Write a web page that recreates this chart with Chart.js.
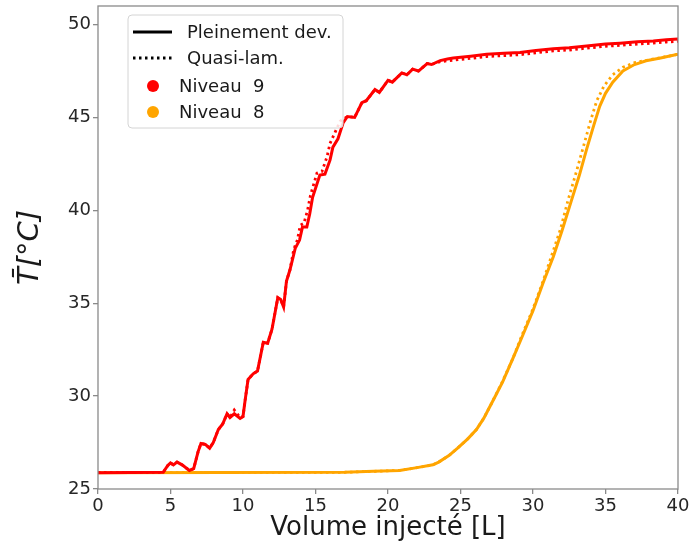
<!DOCTYPE html>
<html>
<head>
<meta charset="utf-8">
<script src="https://cdn.jsdelivr.net/npm/chart.js@4"></script>
<style>
  html, body { margin: 0; padding: 0; background: #fff; }
  canvas { display: block; }
</style>
</head>
<body>
<canvas id="graphe" width="689" height="544"></canvas>
<script>
// ticks des axes
const xTicks = [0, 5, 10, 15, 20, 25, 30, 35, 40];
const yTicks = [25, 30, 35, 40, 45, 50];

// légende
const legendLabels = ['Pleinement dev.', 'Quasi-lam.', 'Niveau  9', 'Niveau  8'];

// Niveau 9 - pleinement développé (volume [L], T [°C])
const niv9Plein = [
  [0, 25.88], [4.5, 25.9], [4.8, 26.25], [5.0, 26.4], [5.2, 26.3], [5.45, 26.45], [5.8, 26.3],
  [6.3, 26.0], [6.6, 26.1], [6.9, 27.0], [7.1, 27.45], [7.4, 27.4], [7.7, 27.2], [7.95, 27.5],
  [8.3, 28.2], [8.6, 28.5], [8.9, 29.05], [9.1, 28.85], [9.4, 29.05], [9.8, 28.8], [10.0, 28.9],
  [10.15, 29.8], [10.35, 30.9], [10.7, 31.2], [11.0, 31.35], [11.4, 32.9], [11.7, 32.85],
  [12.0, 33.6], [12.4, 35.3], [12.6, 35.2], [12.8, 34.8], [13.0, 36.2], [13.24, 36.8],
  [13.6, 37.95], [13.9, 38.4], [14.1, 39.1], [14.4, 39.1], [14.6, 39.8], [14.8, 40.7],
  [15.3, 41.9], [15.65, 41.95], [16.0, 42.7], [16.2, 43.4], [16.55, 43.85], [16.9, 44.7],
  [17.2, 45.05], [17.7, 45.0], [18.2, 45.8], [18.5, 45.9], [19.1, 46.5], [19.4, 46.35],
  [20.0, 47.0], [20.3, 46.9], [20.95, 47.4], [21.3, 47.3], [21.7, 47.6], [22.1, 47.5],
  [22.7, 47.9], [23.0, 47.85], [23.6, 48.06], [24.1, 48.15], [24.5, 48.2], [25.7, 48.3],
  [26.8, 48.4], [28.0, 48.45], [29.1, 48.5], [30.2, 48.6], [31.4, 48.7], [32.5, 48.75],
  [33.7, 48.85], [35.0, 48.95], [36.0, 49.0], [37.2, 49.07], [38.3, 49.12], [39.2, 49.18],
  [40.0, 49.22]
];

// Niveau 9 - quasi-laminaire
const niv9Quasi = [
  [0, 25.88], [4.5, 25.9], [4.8, 26.25], [5.0, 26.4], [5.2, 26.3], [5.45, 26.45], [5.8, 26.3],
  [6.3, 26.0], [6.6, 26.1], [6.9, 27.0], [7.1, 27.45], [7.4, 27.4], [7.7, 27.2], [7.95, 27.5],
  [8.3, 28.2], [8.6, 28.5], [8.9, 29.05], [9.1, 28.85], [9.4, 29.25], [9.8, 28.85], [10.0, 28.9],
  [10.15, 29.8], [10.35, 30.9], [10.7, 31.2], [11.0, 31.35], [11.4, 32.9], [11.7, 32.85],
  [12.0, 33.6], [12.4, 35.3], [12.6, 35.2], [12.8, 34.8], [13.0, 36.2], [13.24, 36.8],
  [13.5, 37.9], [13.75, 38.4], [13.95, 39.2], [14.2, 39.3], [14.45, 40.0], [14.65, 40.8],
  [15.1, 42.0], [15.45, 42.1], [15.8, 42.9], [16.0, 43.6], [16.35, 44.2], [16.7, 44.8],
  [17.2, 45.05], [17.7, 45.0], [18.2, 45.8], [18.5, 45.9], [19.1, 46.5], [19.4, 46.35],
  [20.0, 47.0], [20.3, 46.9], [20.95, 47.4], [21.3, 47.3], [21.7, 47.6], [22.1, 47.5],
  [22.7, 47.9], [23.0, 47.85], [23.6, 48.0], [24.1, 48.05], [24.5, 48.08], [25.7, 48.18],
  [26.8, 48.28], [28.0, 48.33], [29.1, 48.38], [30.2, 48.48], [31.4, 48.58], [32.5, 48.63],
  [33.7, 48.73], [35.0, 48.83], [36.0, 48.88], [37.2, 48.95], [38.3, 49.0], [39.2, 49.06],
  [40.0, 49.1]
];

// Niveau 8 - pleinement développé
const niv8Plein = [
  [0, 25.88], [17.0, 25.9], [19.0, 25.95], [20.8, 26.0], [22.0, 26.15], [23.1, 26.3],
  [23.5, 26.45], [24.2, 26.8], [24.8, 27.2], [25.5, 27.7], [26.1, 28.2], [26.6, 28.8],
  [27.2, 29.7], [27.9, 30.75], [28.6, 32.0], [29.2, 33.1], [30.0, 34.6], [30.7, 36.1],
  [31.4, 37.5], [32.0, 38.9], [32.6, 40.4], [33.2, 41.9], [33.7, 43.3], [34.2, 44.6],
  [34.6, 45.6], [35.0, 46.3], [35.5, 46.9], [36.2, 47.5], [37.0, 47.85], [37.8, 48.05],
  [38.8, 48.2], [40.0, 48.4]
];

// Niveau 8 - quasi-laminaire
const niv8Quasi = [
  [0, 25.88], [17.0, 25.9], [19.0, 25.95], [20.8, 26.0], [22.0, 26.15], [23.1, 26.3],
  [23.5, 26.45], [24.2, 26.8], [24.8, 27.2], [25.5, 27.7], [26.1, 28.2], [26.6, 28.8],
  [27.2, 29.7], [27.9, 30.8], [28.6, 32.0], [29.2, 33.2], [30.0, 34.7], [30.7, 36.2],
  [31.3, 37.6], [31.9, 39.0], [32.4, 40.5], [33.0, 42.1], [33.5, 43.5], [34.0, 44.9],
  [34.4, 45.9], [34.9, 46.7], [35.5, 47.3], [36.2, 47.7], [37.0, 47.95], [38.0, 48.1],
  [39.0, 48.25], [40.0, 48.4]
];

const ROUGE = '#ff0000';
const ORANGE = '#ffa500';
const CADRE = '#8a8a8a';

function serie(points, couleur, pointille) {
  return {
    data: points.map(p => ({ x: p[0], y: p[1] })),
    borderColor: couleur,
    borderWidth: pointille ? 2.8 : 3,
    borderDash: pointille ? [2.5, 3.5] : [],
    showLine: true,
    pointRadius: 0,
    tension: 0,
    fill: false
  };
}

// cadre + légende dessinés à la main (comme matplotlib)
const cadrePlugin = {
  id: 'cadre',
  afterDatasetsDraw(chart) {
    const { ctx, chartArea: a } = chart;
    ctx.save();
    ctx.strokeStyle = CADRE;
    ctx.lineWidth = 1.3;
    ctx.strokeRect(a.left, a.top, a.right - a.left, a.bottom - a.top);

    // boîte de légende
    const bx = 128, by = 15, bw = 215, bh = 113, r = 4;
    ctx.beginPath();
    ctx.moveTo(bx + r, by);
    ctx.arcTo(bx + bw, by, bx + bw, by + bh, r);
    ctx.arcTo(bx + bw, by + bh, bx, by + bh, r);
    ctx.arcTo(bx, by + bh, bx, by, r);
    ctx.arcTo(bx, by, bx + bw, by, r);
    ctx.closePath();
    ctx.fillStyle = 'rgba(255,255,255,0.85)';
    ctx.fill();
    ctx.strokeStyle = '#d4d4d4';
    ctx.lineWidth = 1;
    ctx.stroke();

    ctx.font = '18px "DejaVu Sans"';
    ctx.fillStyle = '#1a1a1a';
    ctx.textBaseline = 'middle';

    const ys = [32, 58, 86, 112];
    // ligne pleine
    ctx.strokeStyle = '#000';
    ctx.lineWidth = 2.8;
    ctx.setLineDash([]);
    ctx.beginPath(); ctx.moveTo(133, ys[0]); ctx.lineTo(172, ys[0]); ctx.stroke();
    ctx.fillText(legendLabels[0], 187, ys[0] + 1);
    // ligne pointillée
    ctx.setLineDash([2.5, 3.5]);
    ctx.beginPath(); ctx.moveTo(133, ys[1]); ctx.lineTo(172, ys[1]); ctx.stroke();
    ctx.setLineDash([]);
    ctx.fillText(legendLabels[1], 187, ys[1] + 1);
    // marqueurs
    [[ROUGE, 2], [ORANGE, 3]].forEach(([c, i]) => {
      ctx.fillStyle = c;
      ctx.beginPath(); ctx.arc(153, ys[i], 6, 0, Math.PI * 2); ctx.fill();
      ctx.fillStyle = '#1a1a1a';
      ctx.fillText(legendLabels[i], 179, ys[i] + 1);
    });
    ctx.restore();
  }
};

Chart.defaults.font.family = '"DejaVu Sans"';
Chart.defaults.color = '#262626';

const ctx = document.getElementById('graphe').getContext('2d');
new Chart(ctx, {
  type: 'scatter',
  data: {
    datasets: [
      serie(niv9Plein, ROUGE, false),
      serie(niv9Quasi, ROUGE, true),
      serie(niv8Plein, ORANGE, false),
      serie(niv8Quasi, ORANGE, true)
    ]
  },
  options: {
    responsive: false,
    animation: false,
    layout: { padding: { top: 6, right: 11, left: 0, bottom: 0 } },
    plugins: { legend: { display: false }, tooltip: { enabled: false } },
    scales: {
      x: {
        type: 'linear', min: 0, max: 40,
        afterBuildTicks: s => { s.ticks = xTicks.map(v => ({ value: v })); },
        afterFit: s => { s.height = 55; s.paddingLeft = 0; s.paddingRight = 0; },
        border: { display: false },
        grid: { drawOnChartArea: false, drawTicks: true, tickLength: 5, color: CADRE, lineWidth: 1.3 },
        ticks: { font: { size: 18 }, padding: 2, maxRotation: 0, color: '#262626' },
        title: { display: true, text: 'Volume injecté [L]', font: { size: 26 }, color: '#1a1a1a', padding: { top: 0, bottom: 0 } }
      },
      y: {
        type: 'linear', min: 25, max: 51,
        afterBuildTicks: s => { s.ticks = yTicks.map(v => ({ value: v })); },
        afterFit: s => { s.width = 98; s.paddingTop = 0; s.paddingBottom = 0; },
        border: { display: false },
        grid: { drawOnChartArea: false, drawTicks: true, tickLength: 5, color: CADRE, lineWidth: 1.3 },
        ticks: { font: { size: 18 }, padding: 2, color: '#262626' },
        title: { display: true, text: 'T\u0304[°C]', font: { size: 29, style: 'italic' }, color: '#1a1a1a', padding: { top: 13, bottom: 0 } }
      }
    }
  },
  plugins: [cadrePlugin]
});
</script>
</body>
</html>
